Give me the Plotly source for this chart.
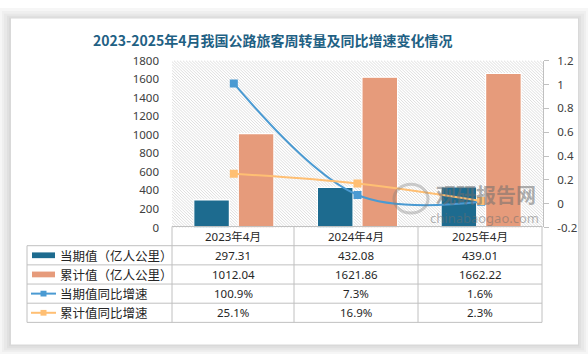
import plotly.graph_objects as go

# ---------------- data ----------------
categories = ["2023年4月", "2024年4月", "2025年4月"]
current_vals = [297.31, 432.08, 439.01]          # 当期值（亿人公里）
cumulative_vals = [1012.04, 1621.86, 1662.22]    # 累计值（亿人公里）
current_yoy = [1.009, 0.073, 0.016]              # 当期值同比增速
cumulative_yoy = [0.251, 0.169, 0.023]           # 累计值同比增速
left_ticks = [0, 200, 400, 600, 800, 1000, 1200, 1400, 1600, 1800]
right_ticks = [-0.2, 0, 0.2, 0.4, 0.6, 0.8, 1.0, 1.2]
right_tick_text = ["-0.2", "0", "0.2", "0.4", "0.6", "0.8", "1", "1.2"]
series_names = ["当期值（亿人公里）", "累计值（亿人公里）", "当期值同比增速", "累计值同比增速"]

W, H = 588, 361
def px(x):
    return x / W
def py(y):
    return 1 - y / H

C_DARK = "#1d6b8f"
C_ORANGE = "#e69b7b"
C_BLUE = "#4a9ad2"
C_YEL = "#ffbf73"
GRID = "#c0c0c0"

PL, PR, PT, PB = 172, 543, 55, 229

fig = go.Figure()
fig.add_trace(go.Bar(x=categories, y=current_vals, name=series_names[0],
                     marker=dict(color=C_DARK, line=dict(color="white", width=1.2))))
fig.add_trace(go.Bar(x=categories, y=cumulative_vals, name=series_names[1],
                     marker=dict(color=C_ORANGE, line=dict(color="white", width=1.2))))
fig.add_trace(go.Scatter(x=categories, y=current_yoy, name=series_names[2], yaxis="y2",
                         mode="lines+markers", line=dict(color=C_BLUE, width=2, shape="spline", smoothing=1),
                         marker=dict(symbol="square", size=8, color=C_BLUE)))
fig.add_trace(go.Scatter(x=categories, y=cumulative_yoy, name=series_names[3], yaxis="y2",
                         mode="lines+markers", line=dict(color=C_YEL, width=2, shape="spline", smoothing=1),
                         marker=dict(symbol="square", size=8, color=C_YEL)))

shapes = []
# card shadow (nested frames, darker toward card)
frames = [(0, 0, W, H, "#f6f6f6"), (2, 3, W - 2, H - 2, "#efefef"), (4, 6, W - 4, H - 4, "#e8e8e8"),
          (7, 8, W - 7, H - 6, "#e0e0e0"), (9, 10, W - 9, H - 8, "#d9d9d9")]
for x0, y0, x1, y1, col in frames:
    shapes.append(dict(type="rect", xref="paper", yref="paper", layer="below",
                       x0=px(x0), x1=px(x1), y0=py(y1), y1=py(y0), fillcolor=col, line=dict(width=0)))
shapes.append(dict(type="rect", xref="paper", yref="paper", layer="below",
                   x0=px(11), x1=px(578), y0=py(351), y1=py(11),
                   fillcolor="white", line=dict(width=0)))

# hatch background of plot area (backslash diagonals)
segs = []
step = 3
c = PT - PR
while c <= PB - PL:
    x_start = max(PL, PT - c)
    x_end = min(PR, PB - c)
    if x_end > x_start:
        segs.append(f"M{px(x_start):.5f},{py(x_start + c):.5f} L{px(x_end):.5f},{py(x_end + c):.5f}")
    c += step
shapes.append(dict(type="path", xref="paper", yref="paper", layer="below",
                   path=" ".join(segs), line=dict(color="#d6d6d6", width=0.8)))

# table grid
TL = 27
col_x = [172, 294, 418, 542]
row_y = [228, 248, 268, 288, 308, 328]
def hline(x0, x1, y):
    shapes.append(dict(type="line", xref="paper", yref="paper", x0=px(x0), x1=px(x1), y0=py(y), y1=py(y),
                       line=dict(color=GRID, width=1)))
def vline(x, y0, y1):
    shapes.append(dict(type="line", xref="paper", yref="paper", x0=px(x), x1=px(x), y0=py(y0), y1=py(y1),
                       line=dict(color=GRID, width=1)))
hline(col_x[0], col_x[-1], row_y[0])
for y in row_y[1:]:
    hline(TL, col_x[-1], y)
vline(TL, row_y[1], row_y[-1])
for x in col_x:
    vline(x, row_y[0], row_y[-1])

# legend keys in table
key_y = [(row_y[i] + row_y[i + 1]) / 2 for i in range(1, 5)]
for i, col in enumerate([C_DARK, C_ORANGE]):
    shapes.append(dict(type="rect", xref="paper", yref="paper", x0=px(32), x1=px(55),
                       y0=py(key_y[i] + 3), y1=py(key_y[i] - 3), fillcolor=col, line=dict(width=0)))
for i, col in enumerate([C_BLUE, C_YEL]):
    yy = key_y[i + 2]
    shapes.append(dict(type="line", xref="paper", yref="paper", x0=px(31), x1=px(56),
                       y0=py(yy), y1=py(yy), line=dict(color=col, width=2)))
    shapes.append(dict(type="rect", xref="paper", yref="paper", x0=px(40.5), x1=px(46.5),
                       y0=py(yy + 3), y1=py(yy - 3), fillcolor=col, line=dict(width=0)))

# watermark logo ring
shapes.append(dict(type="circle", xref="paper", yref="paper", x0=px(394), x1=px(428), y0=py(214), y1=py(184),
                   line=dict(color="rgba(120,120,120,0.35)", width=3)))

annotations = []
annotations.append(dict(text="<b>2023-2025年4月我国公路旅客周转量及同比增速变化情况</b>", x=px(273), y=py(33),
                        xref="paper", yref="paper", showarrow=False, xanchor="center", yanchor="middle",
                        font=dict(family="Noto Sans CJK SC", size=14, color="#1f6184")))
TFONT = dict(family="Noto Sans, Noto Sans CJK SC", size=11.5, color="#262626")
for j, cat in enumerate(categories):
    cx = (col_x[j] + col_x[j + 1]) / 2
    annotations.append(dict(text=cat, x=px(cx), y=py((row_y[0] + row_y[1]) / 2), xref="paper", yref="paper",
                            showarrow=False, xanchor="center", yanchor="middle", font=TFONT))
    row_texts = [f"{current_vals[j]:.2f}", f"{cumulative_vals[j]:.2f}",
                 f"{current_yoy[j] * 100:.1f}%", f"{cumulative_yoy[j] * 100:.1f}%"]
    for i, t in enumerate(row_texts):
        annotations.append(dict(text=t, x=px(cx), y=py(key_y[i]), xref="paper", yref="paper",
                                showarrow=False, xanchor="center", yanchor="middle", font=TFONT))
for i, name in enumerate(series_names):
    annotations.append(dict(text=name, x=px(58), y=py(key_y[i]), xref="paper", yref="paper",
                            showarrow=False, xanchor="left", yanchor="middle",
                            font=dict(family="Noto Sans CJK SC", size=12.5, color="#262626")))

# watermark text
annotations.append(dict(text="<b>观研报告网</b>", x=px(486), y=py(195), xref="paper", yref="paper",
                        showarrow=False, xanchor="center", yanchor="middle",
                        font=dict(family="Noto Sans CJK SC", size=20, color="rgba(110,110,110,0.55)")))
annotations.append(dict(text="chinabaogao.com", x=px(484), y=py(219), xref="paper", yref="paper",
                        showarrow=False, xanchor="center", yanchor="middle",
                        font=dict(family="Noto Sans", size=13, color="rgba(110,110,110,0.5)")))

fig.update_layout(
    width=W, height=H, autosize=False,
    margin=dict(l=0, r=0, t=0, b=0),
    paper_bgcolor="white", plot_bgcolor="rgba(0,0,0,0)",
    showlegend=False,
    barmode="group", bargap=0.28, bargroupgap=0.2,
    shapes=shapes, annotations=annotations,
    xaxis=dict(domain=[px(PL), px(PR)], type="category", range=[-0.5, 2.5],
               showticklabels=False, showgrid=False, zeroline=False, showline=False, ticks=""),
    yaxis=dict(domain=[py(PB), py(PT)], range=[0, 1800], tickvals=left_ticks,
               showgrid=False, zeroline=False, showline=False, ticks="", ticklabelstandoff=12,
               tickfont=dict(family="Noto Sans", size=11.5, color="#404040")),
    yaxis2=dict(overlaying="y", side="right", range=[-0.2, 1.2], tickvals=right_ticks, ticktext=right_tick_text,
                showgrid=False, zeroline=False, showline=True, linecolor=GRID, linewidth=1,
                ticks="outside", ticklen=5, tickcolor=GRID, ticklabelstandoff=6,
                tickfont=dict(family="Noto Sans", size=11.5, color="#404040")),
)

fig.write_html("out.html", config={"displayModeBar": False},
               post_script="document.body.style.margin='0';document.body.style.overflow='hidden';")
